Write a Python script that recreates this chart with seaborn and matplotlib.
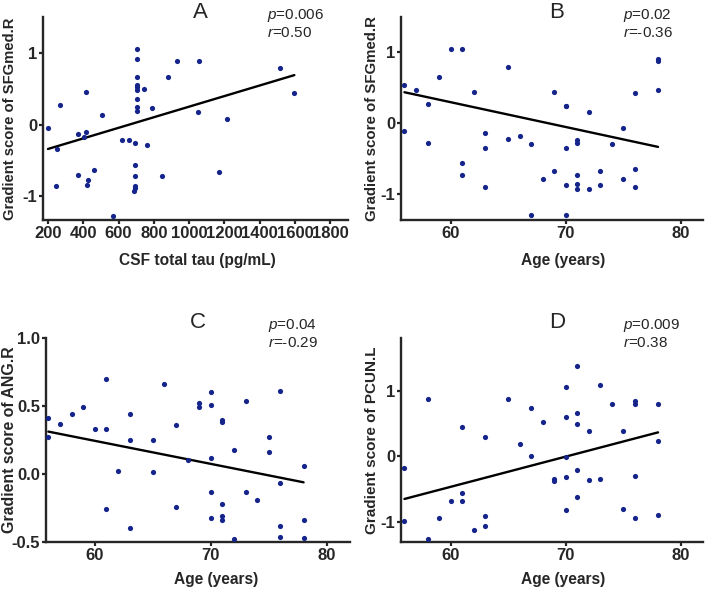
import numpy as np
import matplotlib
matplotlib.use('Agg')
import matplotlib.pyplot as plt
import seaborn as sns

# Panel A: CSF total tau vs gradient score of SFGmed.R
tau_a = [200, 253, 247, 266, 370, 370, 403, 418, 418, 427, 422, 463, 509, 566,
         617, 658, 696, 696, 696, 696, 696, 689, 706, 706, 706, 706, 706, 706,
         706, 706, 706, 743, 762, 791, 846, 880, 933, 1048, 1054, 1170, 1215,
         1516, 1596]
score_a = [-0.05, -0.34, -0.86, 0.27, -0.13, -0.70, -0.17, 0.46, -0.10, -0.77,
           -0.84, -0.63, 0.13, -1.28, -0.22, -0.21, -0.26, -0.56, -0.71, -0.85,
           -0.88, -0.92, 1.06, 0.91, 0.67, 0.55, 0.52, 0.48, 0.35, 0.25, 0.19,
           0.50, -0.28, 0.23, -0.71, 0.66, 0.88, 0.17, 0.88, -0.66, 0.08, 0.79,
           0.44]

# Panel B: age vs gradient score of SFGmed.R
age_b = [56, 56, 57, 58, 58, 59, 60, 61, 61, 61, 62, 63, 63, 63, 65, 65, 66, 67,
         67, 68, 69, 69, 70, 70, 70, 70, 70, 71, 71, 71, 71, 71, 72, 72, 73, 73,
         74, 75, 75, 76, 76, 76, 78, 78, 78]
score_b = [0.54, -0.10, 0.47, 0.27, -0.27, 0.66, 1.05, 1.05, -0.56, -0.72, 0.45,
           -0.13, -0.35, -0.89, 0.79, -0.22, -0.18, -0.29, -1.29, -0.78, 0.45,
           -0.67, 0.25, 0.24, -0.35, -0.87, -1.29, -0.23, -0.27, -0.72, -0.85,
           -0.93, 0.16, -0.93, -0.67, -0.87, -0.29, -0.06, -0.78, 0.43, -0.64,
           -0.89, 0.91, 0.88, 0.47]

# Panel C: age vs gradient score of ANG.R
age_c = [56, 56, 57, 58, 59, 60, 61, 61, 61, 62, 63, 63, 63, 65, 65, 66, 67, 67,
         68, 69, 69, 70, 70, 70, 70, 70, 71, 71, 71, 71, 71, 72, 72, 73, 73, 74,
         75, 75, 76, 76, 76, 76, 78, 78, 78]
score_c = [0.415, 0.275, 0.37, 0.44, 0.49, 0.33, 0.70, 0.33, -0.26, 0.02, 0.44,
           0.25, -0.40, 0.25, 0.015, 0.66, 0.36, -0.24, 0.10, 0.52, 0.49, 0.60,
           0.51, 0.115, -0.13, -0.32, 0.40, 0.38, -0.22, -0.31, -0.34, 0.18,
           -0.48, 0.54, -0.13, -0.19, 0.27, 0.165, 0.61, -0.065, -0.38, -0.46,
           0.06, -0.34, -0.47]

# Panel D: age vs gradient score of PCUN.L
age_d = [56, 56, 58, 58, 59, 60, 61, 61, 61, 62, 63, 63, 63, 65, 66, 67, 67, 68,
         69, 69, 70, 70, 70, 70, 70, 71, 71, 71, 71, 71, 72, 72, 73, 73, 74, 75,
         75, 76, 76, 76, 76, 78, 78, 78]
score_d = [-0.17, -0.98, 0.88, -1.25, -0.93, -0.68, 0.45, -0.55, -0.68, -1.12,
           0.30, -0.90, -1.06, 0.88, 0.19, 0.74, 0.00, 0.53, -0.34, -0.38, 1.05,
           0.60, -0.015, -0.31, -0.82, 1.38, 0.66, 0.49, -0.20, -0.62, 0.39,
           -0.36, 1.08, -0.34, 0.80, 0.39, -0.80, 0.85, 0.80, -0.30, -0.93, 0.80,
           0.24, -0.89]

# fitted lines as shown in the figure (intercept, slope)
fit_a = (-0.4876, 0.0007378)
fit_b = (2.40, -0.035)
fit_c = (1.261, -0.01695)
fit_d = (-3.222, 0.046)

sns.set_style('ticks')
plt.rcParams['font.family'] = ['Liberation Sans', 'DejaVu Sans']
plt.rcParams['axes.unicode_minus'] = False
plt.rcParams['mathtext.fontset'] = 'custom'
plt.rcParams['mathtext.it'] = 'Liberation Sans:italic'
plt.rcParams['mathtext.rm'] = 'Liberation Sans'

W, H = 708, 589
fig = plt.figure(figsize=(W / 100, H / 100), dpi=100)

dot = '#14248a'


def add_axes(left, right, top, bottom):
    return fig.add_axes([left / W, 1 - bottom / H, (right - left) / W, (bottom - top) / H])


def panel(ax, x, y, fit, xlabel, ylabel, xlim, ylim, xticks, yticks,
          ylab_x, ylab_size, xlab_x, xlab_y):
    sns.scatterplot(x=x, y=y, ax=ax, s=14, color=dot, linewidth=0, alpha=1, zorder=3)
    xs = np.array([min(x), max(x)], dtype=float)
    sns.lineplot(x=xs, y=fit[0] + fit[1] * xs, ax=ax, color='black', lw=1.7, zorder=2)
    ax.set_xlim(xlim)
    ax.set_ylim(ylim)
    ax.set_xticks(xticks)
    ax.set_yticks(yticks)
    sns.despine(ax=ax)
    for s in ['left', 'bottom']:
        ax.spines[s].set_linewidth(1.7)
    ax.tick_params(width=1.6, length=3.2, labelsize=12, pad=1)
    for lab in ax.get_xticklabels() + ax.get_yticklabels():
        lab.set_fontweight('bold')
    ax.set_xlabel(xlabel, fontsize=11.2, fontweight='bold')
    ax.set_ylabel(ylabel, fontsize=ylab_size, fontweight='bold')
    ax.yaxis.set_label_coords(ylab_x, 0.5)
    ax.xaxis.set_label_coords(xlab_x, xlab_y)


def labels(letter, lx, ly, ptxt, rtxt, px, py):
    fig.text(lx / W, 1 - ly / H, letter, fontsize=16, ha='center', va='center')
    fig.text(px / W, 1 - py / H, ptxt, fontsize=11, ha='left', va='center')
    fig.text(px / W, 1 - (py + 18) / H, rtxt, fontsize=11, ha='left', va='center')


ages = [60, 70, 80]

ax_a = add_axes(43, 348, 17, 220)
panel(ax_a, tau_a, score_a, fit_a, 'CSF total tau (pg/mL)', 'Gradient score of SFGmed.R',
      (172, 1900), (-1.33, 1.5), list(range(200, 1801, 200)), [-1, 0, 1],
      -0.085, 10.6, 0.505, -0.162)
labels('A', 200, 13, r'$p$=0.006', r'$r$=0.50', 267, 15)

ax_b = add_axes(401, 703, 17, 220)
panel(ax_b, age_b, score_b, fit_b, 'Age (years)', 'Gradient score of SFGmed.R',
      (55.7, 81.9), (-1.36, 1.5), ages, [-1, 0, 1],
      -0.073, 10.8, 0.537, -0.162)
labels('B', 557, 13, r'$p$=0.02', r'$r$=-0.36', 623, 15)

ax_c = add_axes(46, 350, 338, 542)
panel(ax_c, age_c, score_c, fit_c, 'Age (years)', 'Gradient score of ANG.R',
      (55.8, 82), (-0.5, 1.0), ages, [-0.5, 0.0, 0.5, 1.0],
      -0.097, 11.4, 0.56, -0.147)
ax_c.set_yticklabels(['-0.5', '0.0', '0.5', '1.0'], fontweight='bold')
labels('C', 198, 323, r'$p$=0.04', r'$r$=-0.29', 268, 325)

ax_d = add_axes(401, 703, 338, 542)
panel(ax_d, age_d, score_d, fit_d, 'Age (years)', 'Gradient score of PCUN.L',
      (55.7, 81.9), (-1.3, 1.8), ages, [-1, 0, 1],
      -0.073, 11.0, 0.537, -0.147)
labels('D', 557, 323, r'$p$=0.009', r'$r$=0.38', 623, 325)

fig.savefig('out.png', dpi=100)
